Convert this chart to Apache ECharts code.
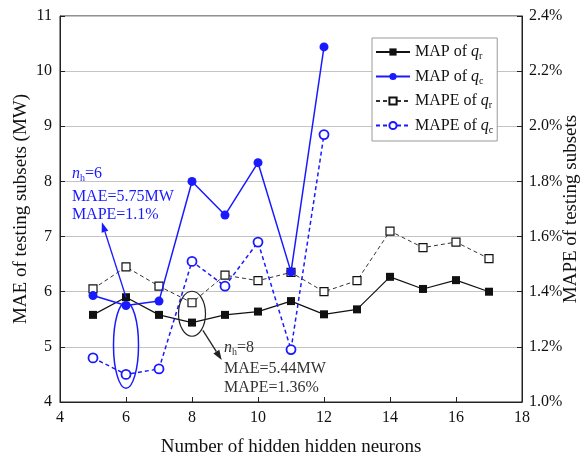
<!DOCTYPE html>
<html>
<head>
<meta charset="utf-8">
<script src="https://cdn.jsdelivr.net/npm/echarts@6/dist/echarts.min.js"></script>
<style>
  html, body { margin: 0; padding: 0; background: #fff; }
  #main { width: 585px; height: 459px; }
</style>
</head>
<body>
<div id="main"></div>
<script>
// hidden neurons
var neuronsR = [5, 6, 7, 8, 9, 10, 11, 12, 13, 14, 15, 16, 17];
var neuronsC = [5, 6, 7, 8, 9, 10, 11, 12];
// MAE (MW), left axis
var maeR = [5.58, 5.90, 5.58, 5.44, 5.58, 5.64, 5.83, 5.59, 5.68, 6.27, 6.05, 6.21, 6.00];
var maeC = [5.93, 5.75, 5.83, 8.00, 7.39, 8.34, 6.36, 10.44];
// MAPE (%), right axis
var mapeR = [1.41, 1.49, 1.42, 1.36, 1.46, 1.44, 1.47, 1.40, 1.44, 1.62, 1.56, 1.58, 1.52];
var mapeC = [1.16, 1.10, 1.12, 1.51, 1.42, 1.58, 1.19, 1.97];

var SERIF = '"Liberation Serif", "DejaVu Serif", serif';
var BLUE = '#1a1aff';

function pairs(xs, ys) {
  var out = [];
  for (var i = 0; i < xs.length; i++) out.push([xs[i], ys[i]]);
  return out;
}

var richText = {
  i: { fontFamily: SERIF, fontStyle: 'italic', fontSize: 16 },
  s: { fontFamily: SERIF, fontSize: 10, padding: [9, 0, 0, 0], verticalAlign: 'bottom' },
  n: { fontFamily: SERIF, fontSize: 16 }
};

var myChart = echarts.init(document.getElementById('main'));

myChart.setOption({
  animation: false,
  backgroundColor: '#fff',
  textStyle: { fontFamily: SERIF },
  grid: {
    left: 60, right: 63, top: 16, bottom: 57,
    outerBoundsMode: 'none',
    containLabel: false,
    show: true, borderColor: '#222', borderWidth: 1
  },
  legend: {
    orient: 'vertical',
    left: 372, top: 38,
    padding: [6, 4, 6, 3],
    itemGap: 7,
    itemWidth: 34,
    itemHeight: 9,
    backgroundColor: '#fff',
    borderColor: '#999',
    borderWidth: 1,
    borderRadius: 0,
    formatter: function (name) {
      var parts = name.split('|');
      return '{n|' + parts[0] + ' }{i|q}{s|' + parts[1] + '}';
    },
    textStyle: { color: '#111', rich: richText },
    data: ['MAP of|r', 'MAP of|c', 'MAPE of|r', 'MAPE of|c']
  },
  xAxis: {
    type: 'value',
    min: 4, max: 18, interval: 2,
    name: 'Number of hidden hidden neurons',
    nameLocation: 'middle',
    nameGap: 36,
    nameMoveOverlap: false,
    nameTextStyle: { fontFamily: SERIF, fontSize: 19, color: '#111' },
    axisLine: { lineStyle: { color: '#222', width: 1 } },
    axisTick: { inside: true, length: 5, lineStyle: { color: '#222' } },
    axisLabel: { fontFamily: SERIF, fontSize: 16, color: '#111', margin: 8 },
    splitLine: { show: false }
  },
  yAxis: [{
    type: 'value',
    min: 4, max: 11, interval: 1,
    name: 'MAE of testing subsets (MW)',
    nameLocation: 'middle',
    nameGap: 29,
    nameMoveOverlap: false,
    nameTextStyle: { fontFamily: SERIF, fontSize: 19, color: '#111' },
    axisLine: { show: true, lineStyle: { color: '#222' } },
    axisTick: { show: true, inside: true, length: 5, lineStyle: { color: '#222' } },
    axisLabel: { fontFamily: SERIF, fontSize: 16, color: '#111', margin: 8 },
    splitLine: { show: true, lineStyle: { color: '#c4c4c4', width: 1 } }
  }, {
    type: 'value',
    min: 1.0, max: 2.4, interval: 0.2,
    name: 'MAPE of testing subsets',
    nameLocation: 'middle',
    nameRotate: 90,
    nameGap: 40,
    nameMoveOverlap: false,
    nameTextStyle: { fontFamily: SERIF, fontSize: 19, color: '#111' },
    axisLine: { show: true, lineStyle: { color: '#222' } },
    axisTick: { show: true, inside: true, length: 5, lineStyle: { color: '#222' } },
    axisLabel: {
      fontFamily: SERIF, fontSize: 16, color: '#111', margin: 7,
      formatter: function (v) { return v.toFixed(1) + '%'; }
    },
    splitLine: { show: false }
  }],
  series: [{
    name: 'MAP of|r',
    type: 'line',
    data: pairs(neuronsR, maeR),
    symbol: 'rect', symbolSize: 8,
    itemStyle: { color: '#111' },
    lineStyle: { color: '#111', width: 1.2 },
    z: 3
  }, {
    name: 'MAP of|c',
    type: 'line',
    data: pairs(neuronsC, maeC),
    symbol: 'circle', symbolSize: 9,
    itemStyle: { color: BLUE },
    lineStyle: { color: BLUE, width: 1.5 },
    z: 4
  }, {
    name: 'MAPE of|r',
    type: 'line',
    yAxisIndex: 1,
    data: pairs(neuronsR, mapeR),
    symbol: 'rect', symbolSize: 8,
    itemStyle: { color: '#fff', borderColor: '#111', borderWidth: 1.2 },
    lineStyle: { color: '#333', width: 1, type: [4, 3] },
    z: 3
  }, {
    name: 'MAPE of|c',
    type: 'line',
    yAxisIndex: 1,
    data: pairs(neuronsC, mapeC),
    symbol: 'circle', symbolSize: 9,
    itemStyle: { color: '#fff', borderColor: BLUE, borderWidth: 1.8 },
    lineStyle: { color: BLUE, width: 1.5, type: [4, 3] },
    z: 4
  }]
});

// annotations anchored in data space
function px(x, y) { return myChart.convertToPixel({ gridIndex: 0 }, [x, y]); }

function arrow(from, to, color) {
  var dx = to[0] - from[0], dy = to[1] - from[1];
  var len = Math.sqrt(dx * dx + dy * dy);
  var ux = dx / len, uy = dy / len;
  var hl = 10, hw = 3.5;
  var bx = to[0] - ux * hl, by = to[1] - uy * hl;
  return [{
    type: 'line',
    shape: { x1: from[0], y1: from[1], x2: bx, y2: by },
    style: { stroke: color, lineWidth: 1.3 },
    z: 10
  }, {
    type: 'polygon',
    shape: { points: [to, [bx - uy * hw, by + ux * hw], [bx + uy * hw, by - ux * hw]] },
    style: { fill: color },
    z: 10
  }];
}

var blueEl = px(6, 5.03);
var blackEl = px(8, 5.6);
var g = [];
g.push({
  type: 'ellipse',
  shape: { cx: blueEl[0], cy: blueEl[1], rx: 12.5, ry: 43 },
  style: { fill: null, stroke: BLUE, lineWidth: 1.5 },
  z: 10
});
g.push({
  type: 'ellipse',
  shape: { cx: blackEl[0], cy: blackEl[1], rx: 13.5, ry: 22.5 },
  style: { fill: null, stroke: '#222', lineWidth: 1.2 },
  z: 10
});
g = g.concat(arrow(px(6, 5.9), px(5.27, 7.26), BLUE));
g = g.concat(arrow(px(8.33, 5.3), px(8.9, 4.76), '#222'));

var blueRich = {
  i: { fontFamily: SERIF, fontStyle: 'italic', fontSize: 16, fill: BLUE },
  s: { fontFamily: SERIF, fontSize: 10, fill: BLUE, padding: [9, 0, 0, 0], verticalAlign: 'bottom' },
  n: { fontFamily: SERIF, fontSize: 16, fill: BLUE }
};
var darkRich = {
  i: { fontFamily: SERIF, fontStyle: 'italic', fontSize: 16, fill: '#333' },
  s: { fontFamily: SERIF, fontSize: 10, fill: '#333', padding: [9, 0, 0, 0], verticalAlign: 'bottom' },
  n: { fontFamily: SERIF, fontSize: 16, fill: '#333' }
};

var t1 = px(4.36, 8.14);
g.push({ type: 'text', x: t1[0], y: t1[1], z: 11,
  style: { text: '{i|n}{s|h}{n|=6}', rich: blueRich, verticalAlign: 'middle', fill: BLUE } });
g.push({ type: 'text', x: t1[0], y: t1[1] + 23, z: 11,
  style: { text: 'MAE=5.75MW', font: '16px ' + SERIF, fill: BLUE, verticalAlign: 'middle' } });
g.push({ type: 'text', x: t1[0], y: t1[1] + 41, z: 11,
  style: { text: 'MAPE=1.1%', font: '16px ' + SERIF, fill: BLUE, verticalAlign: 'middle' } });

var t2 = px(8.97, 4.98);
g.push({ type: 'text', x: t2[0], y: t2[1], z: 11,
  style: { text: '{i|n}{s|h}{n|=8}', rich: darkRich, verticalAlign: 'middle', fill: '#333' } });
g.push({ type: 'text', x: t2[0], y: t2[1] + 21, z: 11,
  style: { text: 'MAE=5.44MW', font: '16px ' + SERIF, fill: '#333', verticalAlign: 'middle' } });
g.push({ type: 'text', x: t2[0], y: t2[1] + 40, z: 11,
  style: { text: 'MAPE=1.36%', font: '16px ' + SERIF, fill: '#333', verticalAlign: 'middle' } });

myChart.setOption({ graphic: g });
</script>
</body>
</html>
